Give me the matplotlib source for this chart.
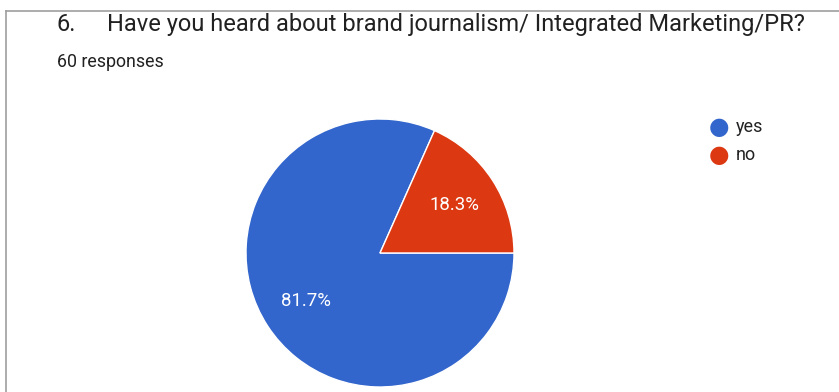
import matplotlib
matplotlib.use('Agg')
import matplotlib.pyplot as plt
from matplotlib.lines import Line2D

plt.rcParams['font.family'] = ['Roboto', 'DejaVu Sans']

# Data
labels = ['yes', 'no']
counts = [49, 11]
colors = ['#3366cc', '#dc3912']
title_num = '6.'
title = 'Have you heard about brand journalism/ Integrated Marketing/PR?'
subtitle = '60 responses'

W, H = 839, 392
fig = plt.figure(figsize=(W / 100, H / 100), dpi=100)

# frame lines (top and left)
fig.add_artist(Line2D([6 / W, 1], [1 - 11 / H, 1 - 11 / H], color='#9e9e9e', lw=1.2))
fig.add_artist(Line2D([6 / W, 6 / W], [0, 1 - 11 / H], color='#9e9e9e', lw=1.2))

fig.text(57 / W, 1 - 31 / H, title_num, fontsize=17, color='#212121')
fig.text(107 / W, 1 - 31 / H, title, fontsize=17, color='#212121')
fig.text(57 / W, 1 - 67 / H, subtitle, fontsize=12.8, color='#212121')

# pie centered at (380, 253) px, radius 134
cx, cy, r = 380, 253, 134
ax = fig.add_axes([(cx - r) / W, (H - cy - r) / H, 2 * r / W, 2 * r / H])
wedges, texts, autotexts = ax.pie(
    counts, colors=colors, startangle=0, counterclock=False,
    autopct='%1.1f%%', pctdistance=0.66,
    wedgeprops={'edgecolor': 'white', 'linewidth': 1},
    textprops={'color': 'white', 'fontsize': 13.4})
ax.set_xlim(-1, 1)
ax.set_ylim(-1, 1)
ax.set_aspect('equal')
ax.axis('off')

# legend
for i, (lab, col) in enumerate(zip(labels, colors)):
    y = 1 - (127 + 28 * i) / H
    fig.text(719 / W, y, '\u25cf', color=col, fontsize=17, ha='center', va='center',
             family='DejaVu Sans')
    fig.text(736 / W, y, lab, color='#222222', fontsize=13, va='center')

fig.savefig('out.png', dpi=100)
